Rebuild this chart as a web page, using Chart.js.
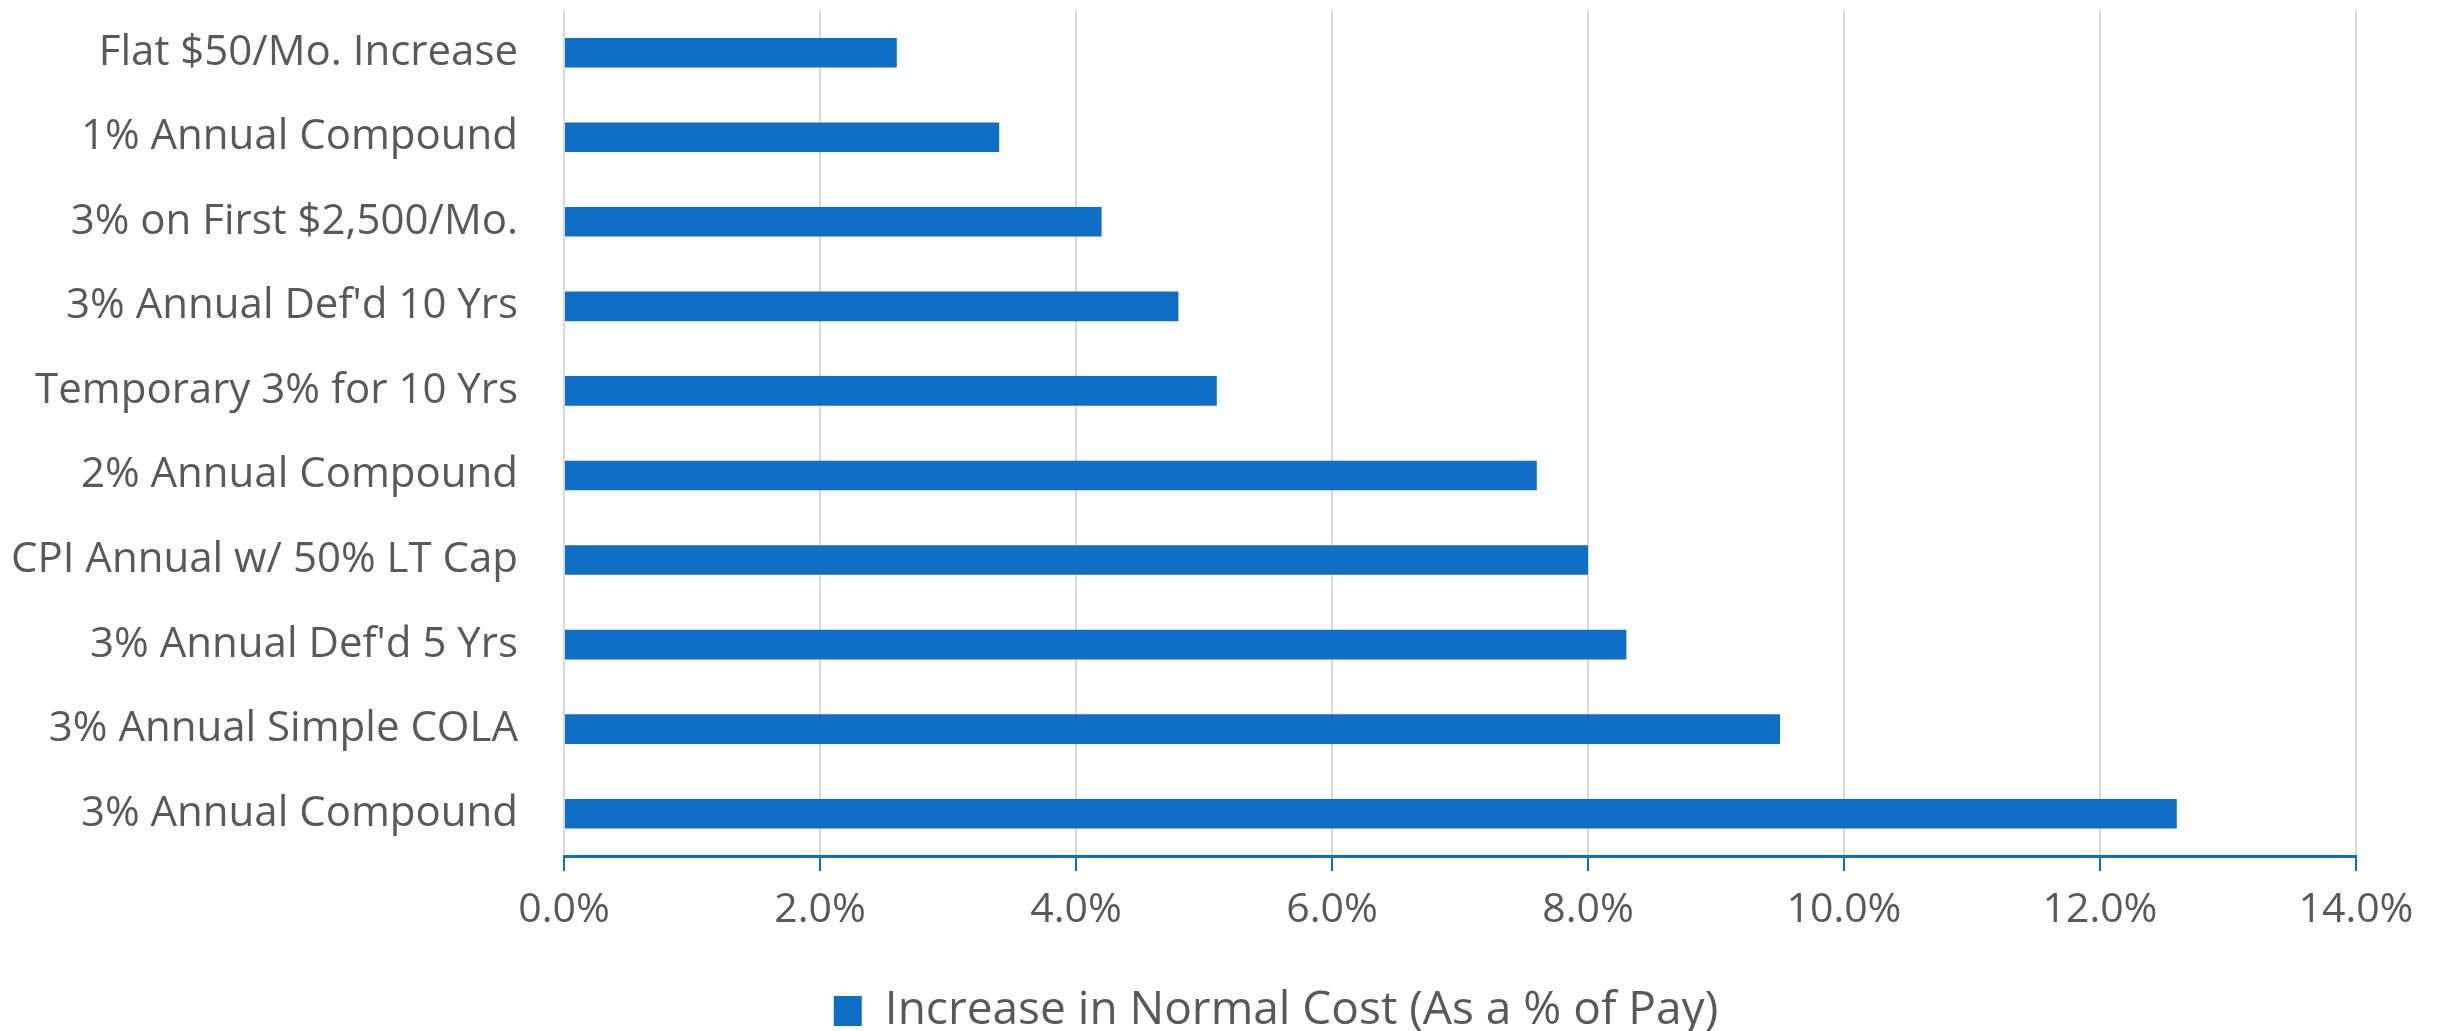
<!DOCTYPE html>
<html>
<head>
<meta charset="utf-8">
<script src="https://cdn.jsdelivr.net/npm/chart.js@4"></script>
<style>
html,body{margin:0;padding:0;background:#fff;}
#wrap{width:2440px;height:1031px;position:relative;}
</style>
</head>
<body>
<div id="wrap"><canvas id="c" width="2440" height="1031"></canvas></div>
<script>
const categories = [
  "Flat $50/Mo. Increase",
  "1% Annual Compound",
  "3% on First $2,500/Mo.",
  "3% Annual Def'd 10 Yrs",
  "Temporary 3% for 10 Yrs",
  "2% Annual Compound",
  "CPI Annual w/ 50% LT Cap",
  "3% Annual Def'd 5 Yrs",
  "3% Annual Simple COLA",
  "3% Annual Compound"
];
const seriesName = "Increase in Normal Cost (As a % of Pay)";
const values = [2.6, 3.4, 4.2, 4.8, 5.1, 7.6, 8.0, 8.3, 9.5, 12.6];
const xTicks = [0, 2, 4, 6, 8, 10, 12, 14];

const FONT = "'Open Sans', sans-serif";
const TXT = '#595959';
const BLUE = '#0F6FC6';

const legendShift = {
  id: 'legendShift',
  afterLayout(chart) {
    const lg = chart.legend;
    if (!lg) return;
    const shift = 1276 - (lg.left + lg.right) / 2;
    lg.left += shift;
    lg.right += shift;
  }
};

new Chart(document.getElementById('c'), {
  type: 'bar',
  data: {
    labels: categories,
    datasets: [{
      label: seriesName,
      data: values,
      backgroundColor: BLUE,
      borderWidth: 0,
      categoryPercentage: 1,
      barPercentage: 0.35
    }]
  },
  plugins: [legendShift],
  options: {
    indexAxis: 'y',
    responsive: false,
    animation: false,
    devicePixelRatio: 1,
    layout: { padding: { top: 10, right: 84, left: 0, bottom: -13 } },
    plugins: {
      tooltip: { enabled: false },
      legend: {
        position: 'bottom',
        labels: {
          color: TXT,
          font: { family: FONT, size: 46 },
          boxWidth: 28,
          boxHeight: 30,
          padding: 10
        }
      }
    },
    scales: {
      x: {
        min: 0,
        max: 14,
        afterBuildTicks: (s) => { s.ticks = xTicks.map(v => ({ value: v })); },
        ticks: {
          color: TXT,
          font: { family: FONT, size: 41 },
          padding: 15,
          maxRotation: 0,
          callback: (v) => Number(v).toFixed(1) + '%'
        },
        grid: {
          color: '#D9D9D9',
          lineWidth: 2,
          tickColor: BLUE,
          tickLength: 15,
          drawTicks: true
        },
        border: { color: BLUE, width: 3 },
        afterFit: (s) => { s.height = 122; }
      },
      y: {
        ticks: {
          color: TXT,
          font: { family: FONT, size: 42, lineHeight: 0.4 },
          padding: 2
        },
        grid: { display: false, drawTicks: true, tickLength: 44 },
        border: { display: false },
        afterFit: (s) => { s.width = 564; }
      }
    }
  }
});
</script>
</body>
</html>
